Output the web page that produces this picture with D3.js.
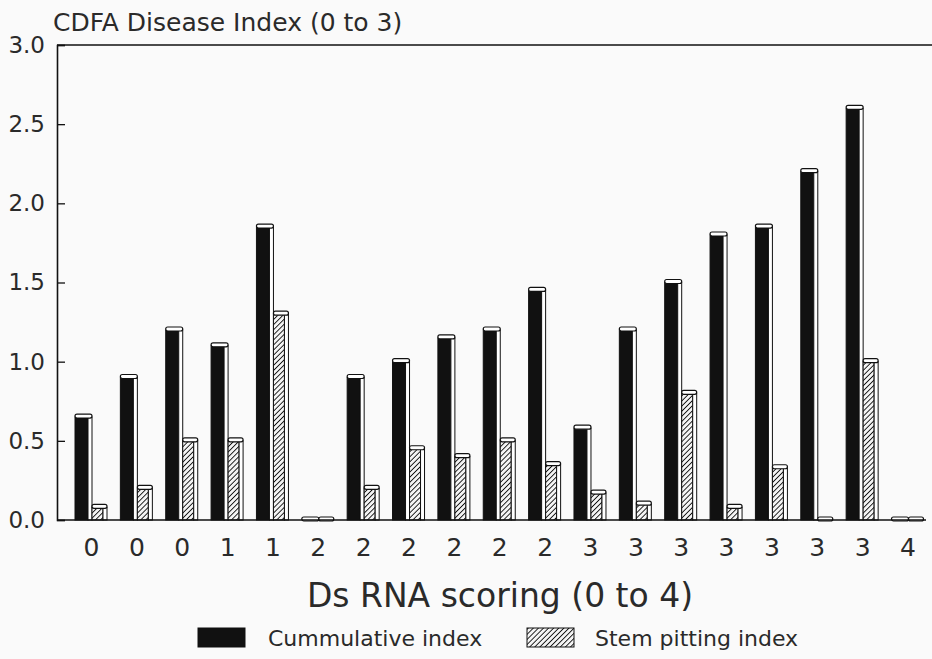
<!DOCTYPE html>
<html>
<head>
<meta charset="utf-8">
<script src="https://cdn.jsdelivr.net/npm/d3@7"></script>
<style>
  body { margin: 0; background: #fafafa; }
  svg { display: block; }
  text { font-family: "DejaVu Sans", "Liberation Sans", sans-serif; fill: #2a2a2a; }
</style>
</head>
<body>
<svg id="chart" width="932" height="659"></svg>
<script>
// values
const categories = ["0", "0", "0", "1", "1", "2", "2", "2", "2", "2", "2", "3", "3", "3", "3", "3", "3", "3", "4"];
const cumulative = [0.65, 0.9, 1.2, 1.1, 1.85, 0, 0.9, 1.0, 1.15, 1.2, 1.45, 0.58, 1.2, 1.5, 1.8, 1.85, 2.2, 2.6, 0];
const stemPitting = [0.08, 0.2, 0.5, 0.5, 1.3, 0, 0.2, 0.45, 0.4, 0.5, 0.35, 0.17, 0.1, 0.8, 0.08, 0.33, 0, 1.0, 0];
const yTicks = [0, 0.5, 1.0, 1.5, 2.0, 2.5, 3.0];
const seriesNames = ["Cummulative index", "Stem pitting index"];

const svg = d3.select("#chart");
const plotLeft = 57, plotRight = 932, plotTop = 45, plotBottom = 520;

const x = d3.scalePoint().domain(d3.range(categories.length)).range([91, 907.5]);
const y = d3.scaleLinear().domain([0, 3]).range([plotBottom, plotTop]);

// hatch pattern
const defs = svg.append("defs");
const pat = defs.append("pattern")
  .attr("id", "hatch")
  .attr("patternUnits", "userSpaceOnUse")
  .attr("width", 3.6).attr("height", 3.6)
  .attr("patternTransform", "rotate(45)");
pat.append("rect").attr("width", 3.6).attr("height", 3.6).attr("fill", "#f4f4f4");
pat.append("line").attr("x1", 0).attr("y1", 0).attr("x2", 0).attr("y2", 3.6)
  .attr("stroke", "#111").attr("stroke-width", 1.8);

// frame: left axis, top line
svg.append("line").attr("x1", plotLeft).attr("x2", plotRight).attr("y1", plotTop).attr("y2", plotTop)
  .attr("stroke", "#111").attr("stroke-width", 1.6);

const yAxis = svg.append("g")
  .attr("transform", `translate(${plotLeft},0)`)
  .call(d3.axisLeft(y).tickValues(yTicks).tickFormat(d3.format(".1f")).tickSize(-8).tickPadding(12));
yAxis.select(".domain").attr("stroke", "#111").attr("stroke-width", 1.6);
yAxis.selectAll(".tick line").attr("stroke", "#111").attr("stroke-width", 1.3);
yAxis.selectAll("text").attr("font-size", 23).attr("fill", "#2a2a2a")
  .style("font-family", "'DejaVu Sans', sans-serif");

// bars
const widths = [17, 15];
const groups = svg.append("g").selectAll("g")
  .data(categories.map((c, i) => ({ i, vals: [cumulative[i], stemPitting[i]] })))
  .join("g")
  .attr("transform", d => `translate(${x(d.i) - 16},0)`);

function drawBar(g, v, x0, w, fill) {
  const yt = y(v);
  const h = plotBottom - yt;
  const side = 4;
  if (h > 1) {
    g.append("rect").attr("x", x0).attr("y", yt).attr("width", w - side).attr("height", h)
      .attr("fill", fill).attr("stroke", "#111").attr("stroke-width", 1);
    g.append("rect").attr("x", x0 + w - side).attr("y", yt).attr("width", side).attr("height", h)
      .attr("fill", "#fff").attr("stroke", "#111").attr("stroke-width", 1);
  }
  g.append("rect").attr("x", x0).attr("y", yt - 3).attr("width", w).attr("height", 4)
    .attr("rx", 2).attr("fill", "#fff").attr("stroke", "#111").attr("stroke-width", 1.2);
}

groups.each(function (d) {
  const g = d3.select(this);
  drawBar(g, d.vals[0], 0, widths[0], "#111");
  drawBar(g, d.vals[1], widths[0], widths[1], "url(#hatch)");
});

// baseline
svg.append("line").attr("x1", plotLeft).attr("x2", 926).attr("y1", plotBottom).attr("y2", plotBottom)
  .attr("stroke", "#111").attr("stroke-width", 1.6);

// x axis labels
const xAxis = svg.append("g")
  .attr("transform", `translate(0,${plotBottom})`)
  .call(d3.axisBottom(x).tickFormat(i => categories[i]).tickSize(0).tickPadding(18));
xAxis.select(".domain").remove();
xAxis.selectAll("text").attr("font-size", 25).attr("fill", "#2a2a2a")
  .style("font-family", "'DejaVu Sans', sans-serif");

// titles
svg.append("text").attr("x", 53).attr("y", 31).attr("font-size", 25)
  .text("CDFA Disease Index (0 to 3)");
svg.append("text").attr("x", 500).attr("y", 607).attr("text-anchor", "middle")
  .attr("font-size", 33).text("Ds RNA scoring (0 to 4)");

// legend
const legend = svg.append("g");
const legendX = [198, 527];
const legendFill = ["#111", "url(#hatch)"];
seriesNames.forEach((name, k) => {
  legend.append("rect").attr("x", legendX[k]).attr("y", 628).attr("width", 47).attr("height", 19)
    .attr("fill", legendFill[k]).attr("stroke", "#111").attr("stroke-width", 1);
  legend.append("text").attr("x", legendX[k] + (k === 0 ? 70 : 68)).attr("y", 646).attr("font-size", 22).text(name);
});
</script>
</body>
</html>
